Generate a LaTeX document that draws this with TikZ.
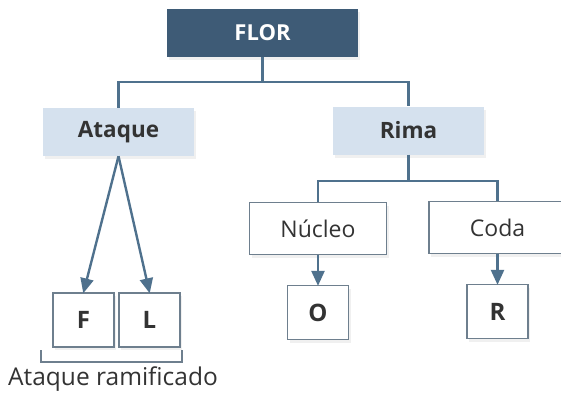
\documentclass[tikz,border=0pt]{standalone}
\usepackage{fontspec}
\setmainfont{Open Sans}
\usetikzlibrary{arrows.meta,shadows}
\definecolor{linkblue}{HTML}{4F718D}
\definecolor{florfill}{HTML}{3E5B76}
\definecolor{lightfill}{HTML}{D5E1EE}
\definecolor{boxline}{HTML}{6E7F8E}
\definecolor{textdark}{HTML}{333333}
\begin{document}
\begin{tikzpicture}[
    x=1pt, y=1pt,
    shade/.style={drop shadow={opacity=0.12, shadow xshift=2pt, shadow yshift=-3pt}},
    topbox/.style={rectangle, fill=florfill, text=white, inner sep=0pt,
        minimum width=191pt, minimum height=48pt, shade,
        font=\fontsize{22}{26}\selectfont\bfseries},
    midbox/.style={rectangle, fill=lightfill, text=textdark, inner sep=0pt,
        minimum width=151pt, minimum height=48pt, shade,
        font=\fontsize{22.5}{26}\selectfont\bfseries},
    subbox/.style={rectangle, draw=boxline, line width=1.3pt, fill=white,
        text=textdark, inner sep=0pt, minimum width=137pt, minimum height=52pt,
        shade, font=\fontsize{23}{26}\selectfont},
    letter/.style={rectangle, draw=boxline, line width=1.3pt, fill=white,
        text=textdark, inner sep=0pt, minimum width=61pt, minimum height=54pt,
        shade, font=\fontsize{24}{28}\selectfont\bfseries},
    link/.style={draw=linkblue, line width=2.4pt},
    arrow/.style={link, -{Triangle[width=13pt,length=15pt]}, shorten >=-1pt}
]
\useasboundingbox (0,0) rectangle (561,-393);

% Top level
\node[topbox] (flor) at (262.5,-33) {FLOR};

% Second level
\node[midbox] (ataque) at (118.5,-132) {Ataque};
\node[midbox] (rima) at (408.5,-130.5) {Rima};

% Rima children
\node[subbox] (nucleo) at (318,-228.5) {Núcleo};
\node[subbox] (coda) at (497.5,-227.5) {Coda};

% Segments
\foreach \n/\x/\y/\t in {f/83.5/-320/F, l/149.5/-320/L, o/318/-312.5/O, r/497.5/-311.5/R} {
    \node[letter] (\n) at (\x,\y) {\t};
}

% Connections
\coordinate (split1) at (262.5,-82);
\coordinate (split2) at (408.5,-181);
\draw[link] (flor) -- (split1);
\draw[link] (split1) -| (ataque);
\draw[link] (split1) -| (rima);
\draw[link] (rima) -- (split2);
\draw[link] (split2) -| (nucleo);
\draw[link] (split2) -| (coda);
\draw[arrow] (ataque.south) -- (f.north);
\draw[arrow] (ataque.south) -- (l.north);
\draw[arrow] (nucleo) -- (o);
\draw[arrow] (coda) -- (r);

% Bracket under the branching onset
\draw[boxline, line width=1.2pt] (41,-350) -- (41,-362) -- (182,-362) -- (182,-350);
\node[anchor=base, text=textdark, inner sep=0pt,
    font=\fontsize{24.5}{28}\selectfont] (label) at (113,-385) {Ataque ramificado};

\end{tikzpicture}
\end{document}
